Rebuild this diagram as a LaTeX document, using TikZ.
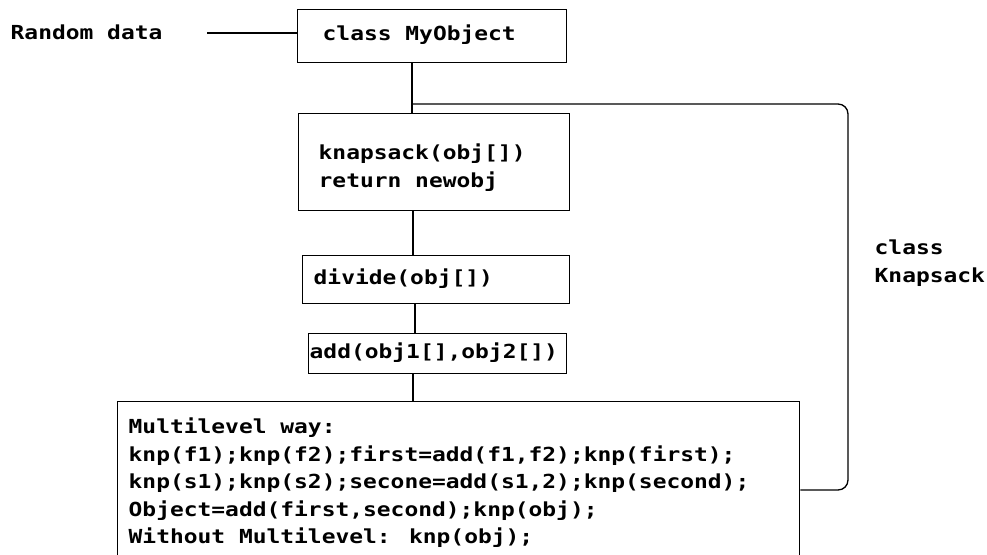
\documentclass[tikz,border=0pt]{standalone}
\usepackage{fontspec}
\newfontfamily\pixfont{DejaVu Sans Mono}[FakeStretch=1.185]
\begin{document}
\begin{tikzpicture}[x=0.75pt,y=-0.75pt,
  line width=1pt,
  boxnode/.style={draw, line width=1pt, rectangle, inner sep=0pt, anchor=north west},
  txt/.style={inner sep=0pt, anchor=west, align=left,
    font=\pixfont\bfseries\fontsize{14.5pt}{20.6pt}\selectfont}]
\useasboundingbox (0,0) rectangle (987,555);
\clip (0,0) rectangle (987,555);
% boxes
\node[boxnode, minimum width=201.75pt, minimum height=39.75pt] (mo) at (297,9) {};
\node[boxnode, minimum width=203.25pt, minimum height=72.75pt] (ks) at (298,113) {};
\node[boxnode, minimum width=200.25pt, minimum height=36pt] (dv) at (302,255) {};
\node[boxnode, minimum width=193.5pt, minimum height=30pt] (ad) at (308,333) {};
\node[boxnode, minimum width=511.5pt, minimum height=135pt] (big) at (117,401) {};
% texts
\node[txt] (rnd) at (10,32) {Random data};
\node[txt] (mot) at (322,35) {class MyObject};
\node[txt] (kst) at (318,168) {knapsack(obj[])\\[0.5pt]return newobj};
\node[txt] (dvt) at (313,279) {divide(obj[])};
\node[txt] (adt) at (309,353) {add(obj1[],obj2[])};
\node[txt] (bigt) at (128,483) {Multilevel way:\\
knp(f1);knp(f2);first=add(f1,f2);knp(first);\\
knp(s1);knp(s2);secone=add(s1,2);knp(second);\\
Object=add(first,second);knp(obj);\\
Without Multilevel: knp(obj);};
\node[txt] (cls) at (874,263) {class\\[0.5pt]Knapsack};
% helper coordinates
\coordinate (rl) at (207,33);
\coordinate (j1) at (412,104);
\coordinate (brt) at (848,104);
\coordinate (brb) at (848,490);
\coordinate (c2) at (413,0);
\coordinate (c3) at (415,0);
% connectors
\draw (rl) -- (rl -| mo.west);
\draw (j1 |- mo.south) -- (j1 |- ks.north);
\draw[rounded corners=7.5pt] (j1) -- (brt) -- (brb) -- (brb -| big.east);
\draw (c2 |- ks.south) -- (c2 |- dv.north);
\draw (c3 |- dv.south) -- (c3 |- ad.north);
\draw (c2 |- ad.south) -- (c2 |- big.north);
\end{tikzpicture}
\end{document}
